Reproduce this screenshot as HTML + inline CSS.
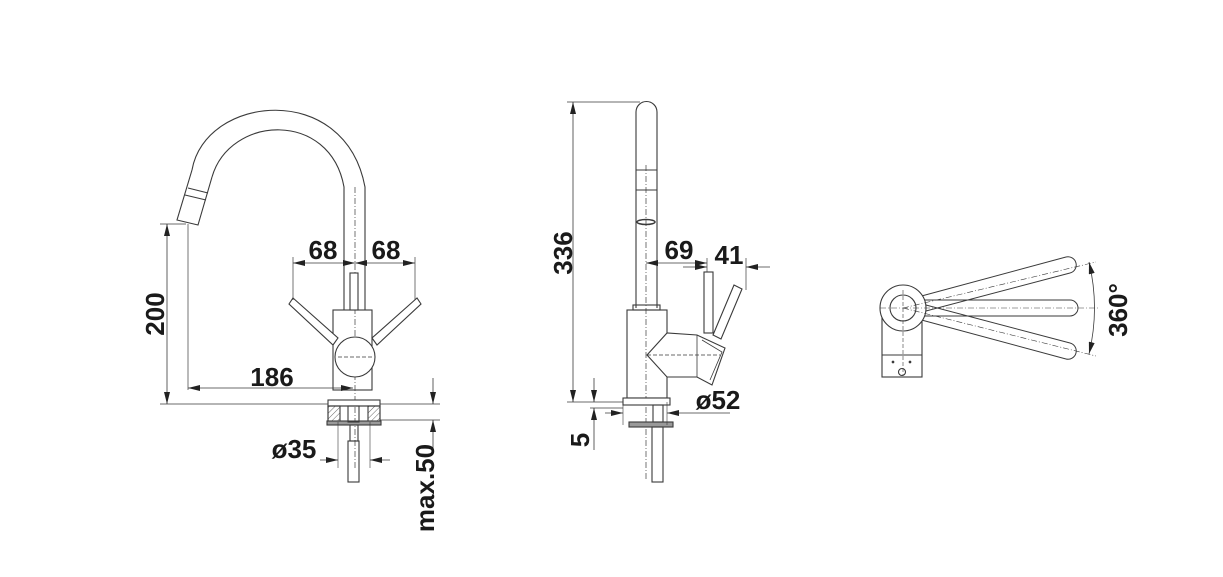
<!DOCTYPE html>
<html><head><meta charset="utf-8"><style>
html,body{margin:0;padding:0;background:#fff;width:1223px;height:577px;overflow:hidden}
svg{display:block}
text{font-family:"Liberation Sans",sans-serif;font-weight:bold;fill:#1a1a1a;font-size:26px}
</style></head><body>
<svg width="1223" height="577" viewBox="0 0 1223 577" xmlns="http://www.w3.org/2000/svg">
<defs>
<marker id="a" viewBox="0 0 12 6" refX="12" refY="3" markerWidth="12" markerHeight="6" orient="auto-start-reverse" markerUnits="userSpaceOnUse"><path d="M0,0 L12,3 L0,6 z" fill="#222"/></marker>
<pattern id="h" width="4" height="4" patternUnits="userSpaceOnUse" patternTransform="rotate(45)"><line x1="0" y1="0" x2="0" y2="4" stroke="#666" stroke-width="1"/></pattern>
</defs>
<g fill="none" stroke="#3a3a3a" stroke-width="1.1">
<!-- VIEW 1 -->
<path d="M192,170 C205,95 345,80 365,187 L365,310"/>
<path d="M212,177 C230,115 330,110 344,187 L344,310"/>
<path d="M192,170 L177,220 L198,225 L212,177"/>
<line x1="188" y1="188" x2="208" y2="193"/>
<line x1="185" y1="195" x2="206" y2="200"/>
<line x1="355" y1="187" x2="355" y2="470" stroke-dasharray="6,2,1,2" stroke-width="0.7"/>
<rect x="333" y="310" width="39" height="80"/>
<rect x="350" y="273" width="8" height="37" fill="#fff"/>
<path d="M293,298 L338,338 L333,345 L289,304 z" fill="#fff"/>
<path d="M417,298 L372,338 L377,345 L421,304 z" fill="#fff"/>
<circle cx="355" cy="357" r="20" fill="#fff"/>
<line x1="338" y1="357" x2="372" y2="357" stroke-dasharray="4,2" stroke-width="0.7"/>
<line x1="293" y1="257" x2="293" y2="300" stroke-width="0.7"/>
<line x1="415" y1="257" x2="415" y2="300" stroke-width="0.7"/>
<line x1="293" y1="263" x2="355" y2="263" marker-start="url(#a)" marker-end="url(#a)" stroke-width="0.8"/>
<line x1="355" y1="263" x2="415" y2="263" marker-start="url(#a)" marker-end="url(#a)" stroke-width="0.8"/>
<line x1="160" y1="224" x2="186" y2="224" stroke-width="0.7"/>
<line x1="188" y1="224" x2="188" y2="390" stroke-width="0.7"/>
<line x1="167" y1="224" x2="167" y2="404" marker-start="url(#a)" marker-end="url(#a)" stroke-width="0.8"/>
<line x1="160" y1="404" x2="440" y2="404" stroke-width="0.7"/>
<line x1="188" y1="388" x2="353" y2="388" marker-start="url(#a)" marker-end="url(#a)" stroke-width="0.8"/>
<rect x="328" y="400" width="52" height="6" fill="#fff"/>
<rect x="328" y="406" width="12" height="16" fill="url(#h)"/>
<rect x="368" y="406" width="12" height="16" fill="url(#h)"/>
<rect x="328" y="406" width="52" height="16"/>
<rect x="327" y="421" width="54" height="4" fill="#999"/>
<rect x="348" y="406" width="11" height="16"/>
<rect x="350" y="425" width="8" height="16"/>
<rect x="348" y="441" width="11" height="41"/>
<line x1="338" y1="422" x2="338" y2="468" stroke-width="0.6"/>
<line x1="370" y1="422" x2="370" y2="468" stroke-width="0.6"/>
<line x1="320" y1="460" x2="338" y2="460" marker-end="url(#a)" stroke-width="0.8"/>
<line x1="390" y1="460" x2="370" y2="460" marker-end="url(#a)" stroke-width="0.8"/>
<line x1="380" y1="420" x2="440" y2="420" stroke-width="0.7"/>
<line x1="433" y1="378" x2="433" y2="404" marker-end="url(#a)" stroke-width="0.8"/>
<line x1="433" y1="450" x2="433" y2="420" marker-end="url(#a)" stroke-width="0.8"/>

<!-- VIEW 2 -->
<path d="M636,308 L636,112 A10.5,10.5 0 0 1 657,112 L657,308"/>
<line x1="636" y1="170" x2="657" y2="170"/>
<line x1="636" y1="190" x2="657" y2="190"/>
<ellipse cx="646" cy="222" rx="9" ry="2.5" stroke-width="1.5"/>
<line x1="646" y1="165" x2="646" y2="480" stroke-dasharray="6,2,1,2" stroke-width="0.7"/>
<rect x="633" y="305" width="27" height="5"/>
<rect x="627" y="310" width="40" height="88"/>
<rect x="704" y="272" width="9" height="61" fill="#fff"/>
<path d="M734,285 L742,289 L721,339 L713,335 z" fill="#fff"/>
<path d="M647,355 L667,333 L697,335 L725,348 L712,385 L697,377 L667,377 z" fill="#fff"/>
<path d="M697,335 L697,377 M702,340 L722,352 L710,380" stroke-width="0.8"/>
<line x1="647" y1="355" x2="720" y2="355" stroke-dasharray="4,2" stroke-width="0.7"/>
<line x1="567" y1="102" x2="640" y2="102" stroke-width="0.7"/>
<line x1="567" y1="402" x2="627" y2="402" stroke-width="0.7"/>
<line x1="573" y1="102" x2="573" y2="402" marker-start="url(#a)" marker-end="url(#a)" stroke-width="0.8"/>
<line x1="646" y1="263" x2="707" y2="263" marker-start="url(#a)" marker-end="url(#a)" stroke-width="0.8"/>
<line x1="683" y1="267" x2="707" y2="267" marker-end="url(#a)" stroke-width="0.8"/>
<line x1="770" y1="267" x2="746" y2="267" marker-end="url(#a)" stroke-width="0.8"/>
<line x1="707" y1="258" x2="707" y2="272" stroke-width="0.7"/>
<line x1="746" y1="258" x2="746" y2="290" stroke-width="0.7"/>
<rect x="623" y="398" width="47" height="7" fill="#fff"/>
<rect x="629" y="422" width="44" height="5" fill="#999"/>
<rect x="653" y="405" width="10" height="17"/>
<rect x="652" y="427" width="11" height="55"/>
<line x1="623" y1="402" x2="623" y2="425" stroke-width="0.6"/>
<line x1="667" y1="402" x2="667" y2="425" stroke-width="0.6"/>
<line x1="605" y1="413" x2="623" y2="413" marker-end="url(#a)" stroke-width="0.8"/>
<line x1="730" y1="413" x2="667" y2="413" marker-end="url(#a)" stroke-width="0.8"/>
<line x1="590" y1="408" x2="623" y2="408" stroke-width="0.7"/>
<line x1="594" y1="378" x2="594" y2="402" marker-end="url(#a)" stroke-width="0.8"/>
<line x1="594" y1="450" x2="594" y2="408" marker-end="url(#a)" stroke-width="0.8"/>

<!-- VIEW 3 -->
<rect x="882" y="318" width="40" height="59" fill="#fff"/>
<line x1="882" y1="355" x2="922" y2="355"/>
<circle cx="902" cy="372" r="3.5"/>
<circle cx="893" cy="362" r="0.8" fill="#333"/>
<circle cx="910" cy="362" r="0.8" fill="#333"/>
<g stroke-width="1">
<line x1="903" y1="301" x2="1066" y2="257"/><line x1="907" y1="316" x2="1070" y2="273"/>
<path d="M1066,257 A8,8 0 0 1 1070,273"/>
<line x1="903" y1="300" x2="1070" y2="300"/><line x1="903" y1="316" x2="1070" y2="316"/>
<path d="M1070,300 A8,8 0 0 1 1070,316"/>
<line x1="907" y1="300" x2="1070" y2="343"/><line x1="903" y1="315" x2="1066" y2="359"/>
<path d="M1070,343 A8,8 0 0 1 1066,359"/>
</g>
<circle cx="903" cy="308" r="23" fill="#fff"/>
<circle cx="903" cy="308" r="13"/>
<line x1="903" y1="308" x2="1096" y2="262" stroke-dasharray="6,2,1,2" stroke-width="0.6"/>
<line x1="880" y1="308" x2="1100" y2="308" stroke-dasharray="6,2,1,2" stroke-width="0.6"/>
<line x1="903" y1="308" x2="1096" y2="356" stroke-dasharray="6,2,1,2" stroke-width="0.6"/>
<line x1="903" y1="290" x2="903" y2="375" stroke-dasharray="4,2" stroke-width="0.6"/>
<path d="M1089,262 Q1100,308 1089,354" marker-start="url(#a)" marker-end="url(#a)" stroke-width="0.8"/>
</g>
<text x="323" y="259" text-anchor="middle">68</text>
<text x="386" y="259" text-anchor="middle">68</text>
<text x="272" y="386" text-anchor="middle">186</text>
<text transform="translate(164,314) rotate(-90)" text-anchor="middle">200</text>
<text x="294" y="458" text-anchor="middle">ø35</text>
<text transform="translate(434,488) rotate(-90)" text-anchor="middle">max.50</text>
<text transform="translate(572,253) rotate(-90)" text-anchor="middle">336</text>
<text x="679" y="259" text-anchor="middle">69</text>
<text x="729" y="264" text-anchor="middle">41</text>
<text x="718" y="409" text-anchor="middle">ø52</text>
<text transform="translate(589,440) rotate(-90)" text-anchor="middle">5</text>
<text transform="translate(1127,310) rotate(-90)" text-anchor="middle">360°</text>
</svg>
</body></html>
